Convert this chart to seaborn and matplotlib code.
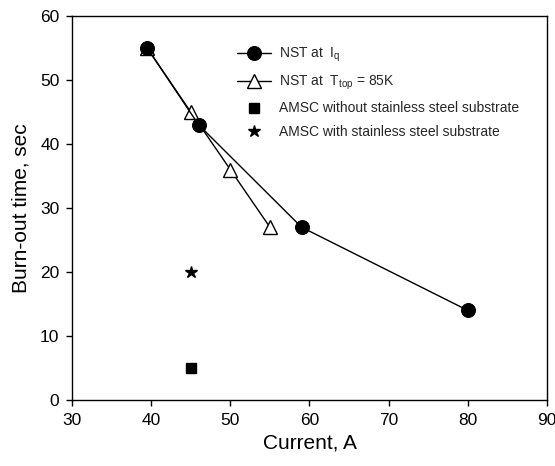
import matplotlib
matplotlib.use("Agg")
import matplotlib.pyplot as plt
import seaborn as sns
import pandas as pd

sns.set_theme(style="ticks")
plt.rcParams['font.family'] = ['Liberation Sans', 'DejaVu Sans']
plt.rcParams['mathtext.fontset'] = 'custom'
plt.rcParams['mathtext.rm'] = 'Liberation Sans'
plt.rcParams['mathtext.it'] = 'Liberation Sans'

# Burn-out time vs current
nst_iq_current = [39.5, 46, 59, 80]
nst_iq_time = [55, 43, 27, 14]

nst_ttop_current = [39.5, 45, 50, 55]
nst_ttop_time = [55, 45, 36, 27]

amsc_plain_current = [45]
amsc_plain_time = [5]

amsc_ss_current = [45]
amsc_ss_time = [20]

labels = ["NST at  $\\mathregular{I_q}$",
          "NST at  $\\mathregular{T_{top}}$ = 85K",
          "AMSC without stainless steel substrate",
          "AMSC with stainless steel substrate"]

x_ticks = [30, 40, 50, 60, 70, 80, 90]
y_ticks = [0, 10, 20, 30, 40, 50, 60]

fig = plt.figure(figsize=(5.55, 4.66), dpi=100)
ax = fig.add_axes([0.1297, 0.1416, 0.8559, 0.824])

df_iq = pd.DataFrame({"x": nst_iq_current, "y": nst_iq_time})
df_tt = pd.DataFrame({"x": nst_ttop_current, "y": nst_ttop_time})

sns.lineplot(data=df_tt, x="x", y="y", ax=ax, color="black", lw=1.0,
             marker="^", markersize=10, markerfacecolor="white",
             markeredgecolor="black", markeredgewidth=1.0, label=labels[1],
             zorder=2, sort=False)
sns.lineplot(data=df_iq, x="x", y="y", ax=ax, color="black", lw=1.0,
             marker="o", markersize=10, markerfacecolor="black",
             markeredgecolor="black", label=labels[0], zorder=3, sort=False)
ax.plot(amsc_plain_current, amsc_plain_time, ls="none", marker="s",
        markersize=7.5, color="black", label=labels[2])
ax.plot(amsc_ss_current, amsc_ss_time, ls="none", marker="*",
        markersize=9, color="black", label=labels[3])

ax.set_xlim(30, 90)
ax.set_ylim(0, 60)
ax.set_xticks(x_ticks)
ax.set_yticks(y_ticks)
ax.tick_params(direction="out", length=4, width=1, colors="black",
               labelsize=12.5, pad=5)
ax.tick_params(top=False, right=False)
for s in ["left", "bottom", "top", "right"]:
    ax.spines[s].set_visible(True)
    ax.spines[s].set_color("black")
    ax.spines[s].set_linewidth(1)

ax.set_xlabel("Current, A", fontsize=15, color="black", labelpad=4)
ax.set_ylabel("Burn-out time, sec", fontsize=15, color="black", labelpad=7)

handles, labs = ax.get_legend_handles_labels()
order = [labs.index(l) for l in labels]
ax.legend([handles[i] for i in order], [labs[i] for i in order],
          loc="upper left", bbox_to_anchor=(0.348, 0.922), frameon=False,
          fontsize=10, handlelength=2.4, handletextpad=0.6,
          labelspacing=0.68, borderaxespad=0, borderpad=0)

fig.savefig("out.png", dpi=100)
